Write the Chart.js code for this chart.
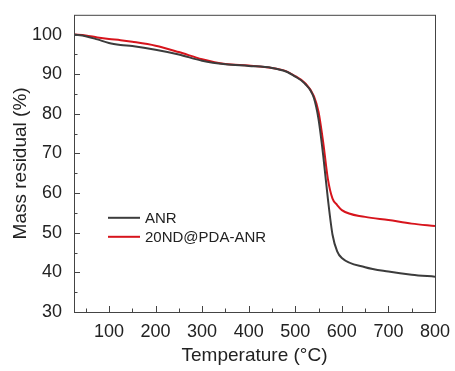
<!DOCTYPE html>
<html>
<head>
<meta charset="utf-8">
<script src="https://cdn.jsdelivr.net/npm/chart.js@4/dist/chart.umd.min.js"></script>
<style>
  html, body { margin: 0; padding: 0; background: #fff; }
  #wrap { width: 455px; height: 371px; }
</style>
</head>
<body>
<div id="wrap"><canvas id="tgaChart"></canvas></div>
<script>
// temperature points (°C) and mass residual (%)
const temps = [25, 50, 75, 100, 125, 150, 200, 250, 300, 350, 400, 450, 480, 500, 520, 540, 550, 560, 570, 580, 590, 600, 650, 700, 750, 800];
const anrMass = [100, 99.6, 98.8, 97.9, 97.4, 97.1, 96.2, 95.0, 93.4, 92.5, 92.1, 91.6, 90.7, 89.4, 87.7, 84.0, 78.6, 69.5, 58.6, 49.5, 45.3, 43.6, 41.3, 40.2, 39.4, 38.9];
const ndMass = [100, 99.8, 99.3, 98.9, 98.6, 98.2, 97.2, 95.6, 93.8, 92.6, 92.2, 91.6, 90.8, 89.5, 87.9, 84.5, 80.5, 72.8, 63.6, 58.6, 57.0, 55.7, 54.0, 53.2, 52.3, 51.7];
const xTicks = [100, 200, 300, 400, 500, 600, 700, 800];
const yTicks = [30, 40, 50, 60, 70, 80, 90, 100];
const seriesNames = ['ANR', '20ND@PDA-ANR'];
const seriesColors = ['#3c3c3c', '#d7141c'];

const toPoints = (ys) => temps.map((t, i) => ({ x: t, y: ys[i] }));
const FONT = '"Liberation Sans", Arial, sans-serif';

// frame, inward ticks and legend drawn by hand to match the original plot
const framePlugin = {
    id: 'frame',
    afterDraw(chart) {
        const { ctx, chartArea: a, scales } = chart;
        ctx.save();
        ctx.strokeStyle = '#444';
        ctx.lineWidth = 1;
        ctx.strokeRect(a.left + 0.5, a.top + 0.5, a.right - a.left, a.bottom - a.top);

        ctx.beginPath();
        for (let v = 50; v <= 800; v += 50) {
            const px = Math.round(scales.x.getPixelForValue(v)) + 0.5;
            if (px <= a.left || px >= a.right) continue;
            const len = v % 100 === 0 ? 6 : 3.5;
            ctx.moveTo(px, a.bottom);
            ctx.lineTo(px, a.bottom - len);
        }
        for (let v = 35; v <= 100; v += 5) {
            const py = Math.round(scales.y.getPixelForValue(v)) + 0.5;
            const len = v % 10 === 0 ? 6 : 3.5;
            ctx.moveTo(a.left, py);
            ctx.lineTo(a.left + len, py);
        }
        ctx.stroke();

        // legend
        ctx.font = '15px ' + FONT;
        ctx.textBaseline = 'middle';
        seriesNames.forEach((name, i) => {
            const y = a.top + 203 + i * 19;
            ctx.strokeStyle = seriesColors[i];
            ctx.lineWidth = 2;
            ctx.beginPath();
            ctx.moveTo(a.left + 34, y);
            ctx.lineTo(a.left + 66, y);
            ctx.stroke();
            ctx.fillStyle = '#222';
            ctx.fillText(name, a.left + 71, y + 1);
        });
        ctx.restore();
    }
};

const ctx = document.getElementById('tgaChart').getContext('2d');
const tgaChart = new Chart(ctx, {
    type: 'line',
    data: {
        datasets: [
            {
                label: seriesNames[0],
                data: toPoints(anrMass),
                borderColor: seriesColors[0],
                borderWidth: 2,
                pointRadius: 0,
                cubicInterpolationMode: 'monotone',
                fill: false
            },
            {
                label: seriesNames[1],
                data: toPoints(ndMass),
                borderColor: seriesColors[1],
                borderWidth: 2,
                pointRadius: 0,
                cubicInterpolationMode: 'monotone',
                fill: false
            }
        ]
    },
    options: {
        responsive: true,
        maintainAspectRatio: false,
        animation: false,
        layout: { padding: { top: 11, right: 20, left: 0, bottom: 0 } },
        plugins: {
            legend: { display: false },
            tooltip: { enabled: false }
        },
        scales: {
            x: {
                type: 'linear',
                min: 25,
                max: 800,
                afterFit: (s) => { s.height = 59; },
                afterBuildTicks: (s) => {
                    s.ticks = xTicks.map(v => ({ value: v }));
                },
                grid: { display: false },
                border: { display: false },
                ticks: {
                    color: '#222',
                    padding: 1,
                    maxRotation: 0,
                    font: { family: FONT, size: 18 }
                },
                title: {
                    display: true,
                    text: 'Temperature (°C)',
                    color: '#222',
                    padding: { top: 1 },
                    font: { family: FONT, size: 19 }
                }
            },
            y: {
                min: 30,
                max: 105,
                afterFit: (s) => { s.width = 74; },
                afterBuildTicks: (s) => {
                    s.ticks = yTicks.map(v => ({ value: v }));
                },
                grid: { display: false },
                border: { display: false },
                ticks: {
                    color: '#222',
                    padding: 4,
                    font: { family: FONT, size: 18 }
                },
                title: {
                    display: true,
                    text: 'Mass residual (%)',
                    color: '#222',
                    padding: { top: 9, bottom: 0 },
                    font: { family: FONT, size: 19 }
                }
            }
        }
    },
    plugins: [framePlugin]
});
</script>
</body>
</html>
